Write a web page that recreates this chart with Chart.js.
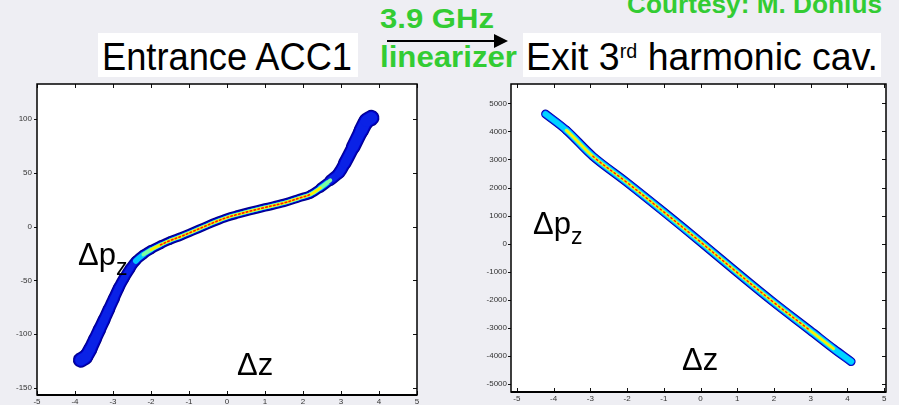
<!DOCTYPE html>
<html>
<head>
<meta charset="utf-8">
<script src="https://cdn.jsdelivr.net/npm/chart.js@4.4.0/dist/chart.umd.min.js"></script>
<style>
html, body { margin: 0; padding: 0; }
body { width: 899px; height: 405px; background: #eeeef3; position: relative; overflow: hidden;
       font-family: "Liberation Sans", Arial, sans-serif; }
.box { position: absolute; background: #fff; }
.t { position: absolute; white-space: nowrap; line-height: 1; transform-origin: 0 0; color: #000; }
.g { color: #33cc33; font-weight: bold; }
canvas { position: absolute; }
</style>
</head>
<body>
<div class="box" style="left:98px;top:33px;width:260px;height:44px"></div>
<div class="box" style="left:523px;top:33px;width:358px;height:44px"></div>

<canvas id="leftChart" width="440" height="325" style="left:0;top:80px"></canvas>
<canvas id="rightChart" width="449" height="325" style="left:450px;top:80px"></canvas>

<div class="t" data-w="250" style="left:102px;top:38px;font-size:38px">Entrance ACC1</div>
<div class="t" data-w="352" style="left:526px;top:38px;font-size:38px">Exit 3<span style="font-size:20px;vertical-align:top;position:relative;top:3px">rd</span> harmonic cav.</div>
<div class="t g" data-w="114" style="left:380px;top:5px;font-size:28px">3.9 GHz</div>
<div class="t g" data-w="137" style="left:380px;top:43px;font-size:29px">linearizer</div>
<div class="t g" data-w="255" style="left:627px;top:-8px;font-size:25px">Courtesy: M. Dohlus</div>
<div style="position:absolute;left:387px;top:40px;width:108px;height:2px;background:#000"></div>
<div style="position:absolute;left:494px;top:34px;width:0;height:0;border-left:14px solid #000;border-top:7px solid transparent;border-bottom:7px solid transparent"></div>

<div class="t" style="left:78px;top:239px;font-size:31px">&Delta;p<span style="font-size:23px;vertical-align:-10px">z</span></div>
<div class="t" style="left:237px;top:349px;font-size:31px">&Delta;z</div>
<div class="t" style="left:533px;top:208px;font-size:31px">&Delta;p<span style="font-size:23px;vertical-align:-10px">z</span></div>
<div class="t" style="left:682px;top:344px;font-size:31px">&Delta;z</div>

<script>
// left panel: entrance ACC1, centre line of the bunch (dz, dpz)
const leftZ = [-3.85, -3.72, -3.6, -3.48, -3.36, -3.24, -3.11, -2.98, -2.85, -2.71, -2.55, -2.4, -2.2, -2.0,
               -1.75, -1.5, -1.2, -0.9, -0.6, -0.3, 0, 0.3, 0.6, 1.0, 1.5, 1.9, 2.2, 2.46, 2.72, 2.95,
               3.1, 3.32, 3.53, 3.67, 3.8];
const leftP = [-124, -121, -114, -105, -96, -87, -77, -67, -57, -48, -39, -32, -26, -21.5,
               -17, -13, -9, -4.5, 0, 4.5, 8.5, 11.5, 14.3, 17.8, 22, 26.5, 30, 36, 43, 50,
               59, 74, 89, 98, 101];
// right panel: exit 3rd harmonic cavity
const rightZ = [-4.22, -3.65, -2.93, -2.02, -1.02, 0, 0.98, 1.98, 2.98, 3.62, 4.1];
const rightP = [4620, 4038, 3112, 2197, 1152, 60, -1010, -2078, -3088, -3741, -4200];

const leftXTicks = [-5, -4, -3, -2, -1, 0, 1, 2, 3, 4, 5];
const leftYTicks = [-150, -100, -50, 0, 50, 100];
const rightXTicks = [-5, -4, -3, -2, -1, 0, 1, 2, 3, 4, 5];
const rightYTicks = [-5000, -4000, -3000, -2000, -1000, 0, 1000, 2000, 3000, 4000, 5000];

// fit the overlay texts to the measured widths
document.querySelectorAll('[data-w]').forEach(el => {
    const w = el.getBoundingClientRect().width;
    el.style.transform = 'scaleX(' + (el.dataset.w / w) + ')';
});

function lerp(tab, x) {
    if (x <= tab[0][0]) return tab[0][1];
    for (let i = 1; i < tab.length; i++) {
        if (x <= tab[i][0]) {
            const [x0, v0] = tab[i - 1], [x1, v1] = tab[i];
            return v0 + (v1 - v0) * (x - x0) / (x1 - x0);
        }
    }
    return tab[tab.length - 1][1];
}

// band width (px) and core density along dz
const leftWidth = [[-3.85, 16], [-3.6, 14], [-3.0, 12], [-2.5, 10.5], [-2.1, 9.5], [-1.6, 8.5], [2.2, 8.5], [2.6, 10], [3.0, 12.5], [3.4, 14.5], [3.8, 16.5]];
const leftCore = [[-3.0, 0], [-2.5, 0.1], [-2.0, 0.7], [-1.4, 1], [2.2, 1], [2.6, 0.5], [2.95, 0.1], [3.2, 0]];
const rightWidth = [[-4.25, 7], [-3.9, 9], [3.9, 9], [4.12, 7]];
const rightCore = [[-4.22, 0.2], [-3.7, 0.55], [-3.1, 1], [3.1, 1], [3.7, 0.55], [4.1, 0.2]];

const leftLayers = [
    { w: w => w, col: c => '#00008a' },
    { w: w => w - 2.2, col: c => '#0000cc' },
    { w: w => w - 4.4, col: c => c > 0.25 ? '#00c4ff' : '#0a22e6' },
    { w: w => 3.8, col: c => c > 0.5 ? '#7cffa0' : null },
    { w: w => 2.6, col: c => c > 0.65 ? '#fff000' : null },
    { w: w => 1.6, col: c => c > 0.85 ? '#ff1800' : null, dash: [1.5, 2.5] }
];
const rightLayers = [
    { w: w => w, col: c => '#0000a0' },
    { w: w => w - 1.6, col: c => '#0030ff' },
    { w: w => w - 3.0, col: c => c > 0.15 ? '#00d4ff' : '#1a5cff' },
    { w: w => 3.6, col: c => c > 0.45 ? '#80ff90' : null },
    { w: w => 2.3, col: c => c > 0.7 ? '#ffee00' : null },
    { w: w => 1.4, col: c => c > 0.9 ? '#ff1800' : null, dash: [1.5, 3] }
];

function bandDatasets(xs, ys, widthTab, coreTab, layers) {
    const pts = xs.map((x, i) => ({ x: x, y: ys[i] }));
    return layers.map((L, k) => {
        const mid = ctx => (ctx.p0.parsed.x + ctx.p1.parsed.x) / 2;
        return {
            data: pts,
            showLine: true,
            pointRadius: 0,
            tension: 0.35,
            borderCapStyle: 'round',
            borderJoinStyle: 'round',
            borderDash: L.dash || [],
            borderColor: L.col(1) || '#000',
            borderWidth: 1,
            order: layers.length - k,
            segment: {
                borderWidth: ctx => Math.max(0.2, L.w(lerp(widthTab, mid(ctx)))),
                borderColor: ctx => L.col(lerp(coreTab, mid(ctx))) || 'rgba(0,0,0,0)'
            }
        };
    });
}

// white plot area, black box with inward tick marks (matlab style)
const framePlugin = {
    id: 'frame',
    beforeDraw(chart) {
        const { ctx, chartArea: a } = chart;
        ctx.save();
        ctx.fillStyle = '#fff';
        ctx.fillRect(a.left, a.top, a.width, a.height);
        ctx.restore();
    },
    afterDraw(chart) {
        const { ctx, chartArea: a, scales } = chart;
        ctx.save();
        ctx.strokeStyle = '#111';
        ctx.lineWidth = 1;
        ctx.beginPath();
        scales.x.ticks.forEach(t => {
            const px = Math.round(scales.x.getPixelForValue(t.value)) + 0.5;
            ctx.moveTo(px, a.top); ctx.lineTo(px, a.top + 4);
            ctx.moveTo(px, a.bottom); ctx.lineTo(px, a.bottom - 4);
        });
        scales.y.ticks.forEach(t => {
            const py = Math.round(scales.y.getPixelForValue(t.value)) + 0.5;
            ctx.moveTo(a.left - 3, py); ctx.lineTo(a.left, py);
            ctx.moveTo(a.right, py); ctx.lineTo(a.right - 4, py);
        });
        ctx.stroke();
        ctx.strokeStyle = '#000';
        ctx.lineWidth = 1.5;
        ctx.strokeRect(a.left, a.top, a.width, a.height);
        ctx.lineWidth = 2;
        ctx.beginPath();
        ctx.moveTo(a.left, a.bottom); ctx.lineTo(a.right, a.bottom);
        ctx.stroke();
        ctx.restore();
    }
};

function makeChart(id, datasets, xr, yr, xTicks, yTicks, yAxisW, xAxisH, pad, yPad) {
    const tickFont = { size: 8, family: '"Liberation Sans", Arial, sans-serif' };
    return new Chart(document.getElementById(id), {
        type: 'scatter',
        data: { datasets: datasets },
        options: {
            responsive: false,
            animation: false,
            layout: { padding: pad },
            plugins: { legend: { display: false }, tooltip: { enabled: false } },
            scales: {
                x: {
                    type: 'linear', min: xr[0], max: xr[1],
                    grid: { display: false, drawTicks: false },
                    border: { display: false },
                    ticks: { color: '#333', font: tickFont, padding: 2, maxRotation: 0, autoSkip: false,
                             callback: v => String(v) },
                    afterBuildTicks: s => { s.ticks = xTicks.map(v => ({ value: v })); },
                    afterFit: s => { s.height = xAxisH; s.paddingLeft = 0; s.paddingRight = 0; }
                },
                y: {
                    type: 'linear', min: yr[0], max: yr[1],
                    grid: { display: false, drawTicks: false },
                    border: { display: false },
                    ticks: { color: '#333', font: tickFont, padding: yPad, autoSkip: false,
                             callback: v => String(v) },
                    afterBuildTicks: s => { s.ticks = yTicks.map(v => ({ value: v })); },
                    afterFit: s => { s.width = yAxisW; s.paddingTop = 0; s.paddingBottom = 0; }
                }
            }
        },
        plugins: [framePlugin]
    });
}

makeChart('leftChart', bandDatasets(leftZ, leftP, leftWidth, leftCore, leftLayers),
    [-5, 5], [-156.5, 132.5], leftXTicks, leftYTicks, 37, 10,
    { top: 4, right: 23, left: 0, bottom: 0 }, 5);

makeChart('rightChart', bandDatasets(rightZ, rightP, rightWidth, rightCore, rightLayers),
    [-5.16, 5.05], [-5285, 5688], rightXTicks, rightYTicks, 61, 13,
    { top: 4, right: 13, left: 0, bottom: 0 }, 4);
</script>
</body>
</html>
